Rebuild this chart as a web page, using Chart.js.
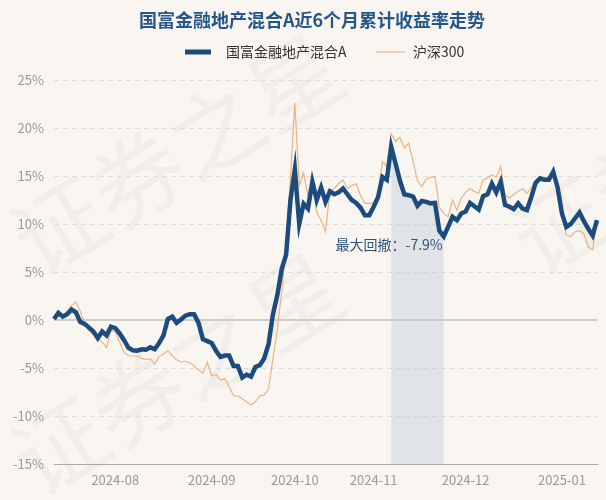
<!DOCTYPE html>
<html lang="zh">
<head>
<meta charset="UTF-8">
<title>国富金融地产混合A近6个月累计收益率走势</title>
<script src="https://cdn.jsdelivr.net/npm/chart.js"></script>
<style>
    html, body { margin: 0; padding: 0; background: #f9f6f2; }
    #wrap { width: 606px; height: 500px; }
</style>
</head>
<body>
<div id="wrap"><canvas id="trendChart" width="606" height="500"></canvas></div>

<script>
    // 交易日
    const dates = [
        '2024-07-12','2024-07-15','2024-07-16','2024-07-17','2024-07-18','2024-07-19','2024-07-22','2024-07-23','2024-07-24','2024-07-25','2024-07-26','2024-07-29','2024-07-30','2024-07-31',
        '2024-08-01','2024-08-02','2024-08-05','2024-08-06','2024-08-07','2024-08-08','2024-08-09','2024-08-12','2024-08-13','2024-08-14','2024-08-15','2024-08-16','2024-08-19','2024-08-20','2024-08-21','2024-08-22','2024-08-23','2024-08-26','2024-08-27','2024-08-28','2024-08-29','2024-08-30',
        '2024-09-02','2024-09-03','2024-09-04','2024-09-05','2024-09-06','2024-09-09','2024-09-10','2024-09-11','2024-09-12','2024-09-13','2024-09-18','2024-09-19','2024-09-20','2024-09-23','2024-09-24','2024-09-25','2024-09-26','2024-09-27','2024-09-30',
        '2024-10-08','2024-10-09','2024-10-10','2024-10-11','2024-10-14','2024-10-15','2024-10-16','2024-10-17','2024-10-18','2024-10-21','2024-10-22','2024-10-23','2024-10-24','2024-10-25','2024-10-28','2024-10-29','2024-10-30','2024-10-31',
        '2024-11-01','2024-11-04','2024-11-05','2024-11-06','2024-11-07','2024-11-08','2024-11-11','2024-11-12','2024-11-13','2024-11-14','2024-11-15','2024-11-18','2024-11-19','2024-11-20','2024-11-21','2024-11-22','2024-11-25','2024-11-26','2024-11-27','2024-11-28','2024-11-29',
        '2024-12-02','2024-12-03','2024-12-04','2024-12-05','2024-12-06','2024-12-09','2024-12-10','2024-12-11','2024-12-12','2024-12-13','2024-12-16','2024-12-17','2024-12-18','2024-12-19','2024-12-20','2024-12-23','2024-12-24','2024-12-25','2024-12-26','2024-12-27','2024-12-30','2024-12-31',
        '2025-01-02','2025-01-03','2025-01-06','2025-01-07','2025-01-08','2025-01-09','2025-01-10','2025-01-13','2025-01-14'
    ];

    const monthTicks = ['2024-08', '2024-09', '2024-10', '2024-11', '2024-12', '2025-01'];

    const fundName = '国富金融地产混合A';
    const indexName = '沪深300';

    // 累计收益率 (%)
    const fundReturn = [
        0.1, 0.75, 0.35, 0.6, 1.1, 0.8, -0.2, -0.4, -0.8, -1.2, -1.9, -1.2, -1.6, -0.7,
        -0.85, -1.4, -2.1, -2.9, -3.15, -3.2, -3.05, -3.1, -2.85, -3.05, -2.4, -1.6, 0.1, 0.35, -0.3, 0.05, 0.45, 0.6, 0.6, -0.3, -2.0, -2.2,
        -2.4, -3.2, -3.85, -3.7, -3.7, -4.8, -4.8, -6.0, -5.7, -5.9, -4.9, -4.7, -4.0, -2.5, 0.6, 2.6, 5.3, 6.8, 12.5,
        15.7, 10.0, 12.1, 11.6, 14.4, 12.5, 13.8, 12.3, 13.4, 13.1, 13.3, 13.7, 13.1, 12.5, 12.2, 11.7, 10.9, 10.9,
        11.8, 12.8, 14.9, 14.6, 18.05, 16.3, 14.5, 13.1, 13.0, 12.85, 11.9, 12.4, 12.3, 12.15, 12.2, 9.3, 8.7, 9.7, 10.75, 10.4, 11.1,
        11.3, 12.2, 11.85, 11.5, 12.9, 13.1, 14.2, 13.3, 14.4, 12.0, 11.8, 11.55, 12.15, 11.6, 11.45, 12.8, 14.3, 14.75, 14.6, 14.6, 15.45, 13.8,
        11.1, 9.7, 10.0, 10.6, 11.2, 10.3, 9.5, 8.8, 10.4
    ];

    const indexReturn = [
        0.0, 0.4, 0.5, 0.9, 1.5, 1.9, 0.9, -0.4, -1.1, -1.55, -1.9, -2.3, -2.85, -1.1,
        -1.2, -2.3, -3.4, -3.7, -3.75, -3.75, -4.0, -4.1, -4.05, -4.6, -3.8, -3.55, -3.2, -3.7, -4.15, -4.4, -4.3, -4.45, -4.8, -5.2, -5.55, -4.4,
        -5.8, -5.7, -6.25, -6.1, -6.95, -7.9, -7.9, -8.2, -8.55, -8.85, -8.5, -7.9, -7.8, -7.2, -4.0, -1.0, 3.0, 7.5, 15.0,
        22.6, 14.0, 15.3, 12.9, 14.5, 11.2, 10.4, 9.2, 13.4, 13.7, 14.2, 14.6, 13.7, 14.0, 14.2, 13.0, 12.15, 12.15,
        12.2, 13.1, 16.5, 16.0, 19.4, 18.6, 19.0, 17.9, 18.4, 16.5, 14.5, 13.9, 14.7, 14.85, 14.9, 11.7, 11.1, 10.75, 12.5, 11.45, 12.7,
        13.3, 13.7, 13.4, 13.2, 14.6, 14.8, 15.1, 14.9, 16.0, 13.0, 12.7, 13.1, 13.4, 13.7, 13.2, 13.8, 14.5, 14.9, 14.75, 15.0, 15.3, 13.9,
        11.1, 8.85, 8.7, 9.2, 9.3, 9.0, 7.6, 7.35, 10.25
    ];

    const yMin = -15;
    const yMax = 25;
    const yStep = 5;

    // 最大回撤区间
    let peakIdx = 0, ddPeak = 0, ddTrough = 0, maxDd = 0;
    for (let i = 0; i < fundReturn.length; i++) {
        if (fundReturn[i] > fundReturn[peakIdx]) peakIdx = i;
        const dd = (100 + fundReturn[i]) / (100 + fundReturn[peakIdx]) - 1;
        if (dd < maxDd) { maxDd = dd; ddPeak = peakIdx; ddTrough = i; }
    }
    const ddArea = fundReturn.map((v, i) => (i >= ddPeak && i <= ddTrough) ? v : null);
    const ddText = '最大回撤：' + (maxDd * 100).toFixed(1) + '%';

    const isMonthStart = (i) => i > 0 && dates[i].slice(0, 7) !== dates[i - 1].slice(0, 7)
        && monthTicks.includes(dates[i].slice(0, 7));

    const FONT = "'Noto Sans CJK SC', 'Noto Sans', sans-serif";
    const BLUE = '#1c4c7e';
    const ORANGE = '#efb27f';

    // 背景、水印、标题、图例、回撤标注
    const decorPlugin = {
        id: 'decor',
        beforeDraw(chart) {
            const ctx = chart.ctx;
            ctx.save();
            ctx.fillStyle = '#f9f6f2';
            ctx.fillRect(0, 0, chart.width, chart.height);

            ctx.fillStyle = 'rgba(120, 120, 120, 0.06)';
            ctx.font = '92px ' + FONT;
            ctx.textBaseline = 'middle';
            [[20, 250], [20, 470], [520, 250]].forEach(([x, y]) => {
                ctx.save();
                ctx.translate(x, y);
                ctx.rotate(-0.55);
                ctx.fillText('证券之星', 0, 0);
                ctx.restore();
            });
            ctx.restore();
        },
        afterDraw(chart) {
            const ctx = chart.ctx;
            ctx.save();
            ctx.textBaseline = 'middle';

            ctx.fillStyle = '#25568a';
            ctx.font = 'bold 18px ' + FONT;
            ctx.textAlign = 'center';
            ctx.fillText('国富金融地产混合A近6个月累计收益率走势', 312, 20);

            ctx.textAlign = 'left';
            ctx.font = '14px ' + FONT;
            ctx.fillStyle = '#333';
            ctx.lineCap = 'butt';
            ctx.strokeStyle = BLUE;
            ctx.lineWidth = 5;
            ctx.beginPath(); ctx.moveTo(185, 52); ctx.lineTo(211, 52); ctx.stroke();
            ctx.fillText(fundName, 226, 52);
            ctx.strokeStyle = ORANGE;
            ctx.lineWidth = 1.2;
            ctx.beginPath(); ctx.moveTo(376, 52); ctx.lineTo(405, 52); ctx.stroke();
            ctx.fillText(indexName, 413, 52);

            const xs = chart.scales.x, ys = chart.scales.y;
            ctx.font = '14px ' + FONT;
            ctx.fillStyle = '#2f5378';
            ctx.textAlign = 'right';
            ctx.fillText(ddText, xs.getPixelForValue(ddTrough) - 1, ys.getPixelForValue(fundReturn[ddTrough]) + 8);
            ctx.restore();
        }
    };

    const ctxTrend = document.getElementById('trendChart').getContext('2d');

    const trendChart = new Chart(ctxTrend, {
        type: 'line',
        data: {
            labels: dates,
            datasets: [
                {
                    label: fundName,
                    data: fundReturn,
                    borderColor: BLUE,
                    borderWidth: 4.5,
                    pointRadius: 0,
                    tension: 0,
                    fill: false,
                    order: 1
                },
                {
                    label: indexName,
                    data: indexReturn,
                    borderColor: ORANGE,
                    borderWidth: 1.2,
                    pointRadius: 0,
                    tension: 0,
                    fill: false,
                    order: 2
                },
                {
                    label: 'drawdown',
                    data: ddArea,
                    borderWidth: 0,
                    borderColor: 'rgba(0,0,0,0)',
                    backgroundColor: 'rgba(190, 203, 216, 0.42)',
                    pointRadius: 0,
                    tension: 0,
                    fill: 'start',
                    spanGaps: false,
                    order: 3
                }
            ]
        },
        options: {
            responsive: false,
            animation: false,
            layout: { padding: { top: 80, right: 9, left: 0, bottom: 0 } },
            plugins: {
                legend: { display: false },
                title: { display: false },
                tooltip: { enabled: false }
            },
            scales: {
                x: {
                    afterFit: (scale) => { scale.height = 36; },
                    grid: {
                        drawOnChartArea: false,
                        drawTicks: true,
                        tickLength: 5,
                        color: (c) => isMonthStart(c.index) ? '#a8a8a8' : 'rgba(0,0,0,0)'
                    },
                    border: { display: true, color: '#a8a8a8', width: 1 },
                    ticks: {
                        autoSkip: false,
                        maxRotation: 0,
                        padding: 3,
                        color: '#999',
                        font: { size: 13, family: FONT },
                        callback: (v, i) => isMonthStart(i) ? dates[i].slice(0, 7) : null
                    }
                },
                y: {
                    min: yMin,
                    max: yMax,
                    afterFit: (scale) => { scale.width = 54; },
                    grid: {
                        drawTicks: false,
                        color: (c) => c.tick && c.tick.value === 0 ? '#cdcdcd' : '#dcdcdc',
                        lineWidth: (c) => c.tick && c.tick.value === 0 ? 2 : 1
                    },
                    border: {
                        display: false,
                        dash: (c) => c.tick && c.tick.value === 0 ? [] : [5, 4]
                    },
                    ticks: {
                        stepSize: yStep,
                        padding: 10,
                        color: '#999',
                        font: { size: 13, family: FONT },
                        callback: (v) => v + '%'
                    }
                }
            }
        },
        plugins: [decorPlugin]
    });
</script>
</body>
</html>
